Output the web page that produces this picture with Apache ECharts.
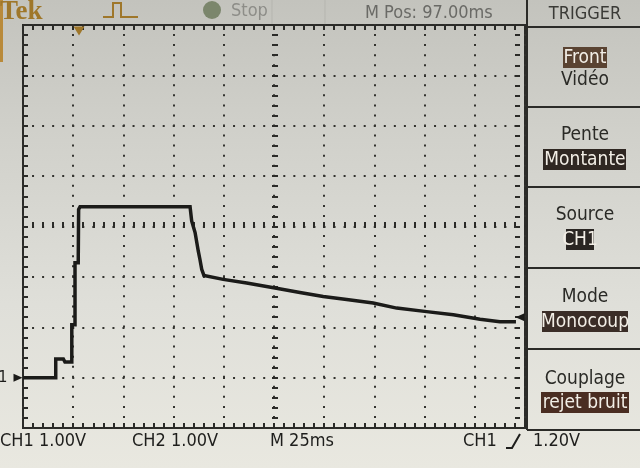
<!DOCTYPE html>
<html><head><meta charset="utf-8">
<script src="https://cdn.jsdelivr.net/npm/echarts@6/dist/echarts.min.js"></script>
<style>
html,body{margin:0;padding:0;width:640px;height:468px;overflow:hidden;}
body{background:linear-gradient(180deg,#c3c3bd 0%,#d1d1cb 30%,#dfdfd9 65%,#e9e8e0 100%);}
#c{width:640px;height:468px;}
</style></head><body><div id="c"></div>
<script>
const timeMs   = [0, 16.3, 16.3, 20.1, 20.9, 24.3, 24.3, 25.9, 25.9, 27.5, 27.7, 28.4, 83.2, 84.0, 85.7, 87.3, 88.1, 89.0, 90.1, 99.7, 111.4, 125.5, 137.9, 149.5, 161.2, 174.4, 186.1, 201.0, 214.3, 227.6, 237.5, 245.5];
const ch1Volts = [0.0, 0.0, 0.37, 0.37, 0.31, 0.31, 1.05, 1.05, 2.28, 2.28, 3.34, 3.39, 3.39, 3.11, 2.88, 2.51, 2.35, 2.15, 2.03, 1.95, 1.88, 1.78, 1.69, 1.61, 1.55, 1.48, 1.38, 1.31, 1.25, 1.16, 1.11, 1.11];
const timeRange = [0, 250];      // 10 div x 25 ms
const msPerDiv = 25;
const voltRange = [-1, 7];       // 8 div x 1.00 V, ground one div above bottom
const voltPerDiv = 1;
const triggerTimeMs = 27.9;
const triggerLevelV = 1.2;
const topTexts = ['Tek', 'Stop', 'M Pos: 97.00ms', 'TRIGGER'];
const bottomTexts = ['CH1 1.00V', 'CH2 1.00V', 'M 25ms', 'CH1', '1.20V'];
const menuTitles = ['', 'Pente', 'Source', 'Mode', 'Couplage'];
const menuValues = ['Front', 'Montante', 'CH1', 'Monocoup', 'rejet bruit'];
const menuExtra = 'Vidéo';

const F = "'Liberation Sans Narrow','DejaVu Sans Condensed','Roboto Condensed',sans-serif";
const ink = '#2b2b28';
const gold = '#9f772a';

function mainAxis(kind) {
  const isX = kind === 'x';
  return {
    type: 'value', gridIndex: 0, position: isX ? 'bottom' : 'left',
    min: isX ? timeRange[0] : voltRange[0], max: isX ? timeRange[1] : voltRange[1],
    interval: isX ? msPerDiv : voltPerDiv,
    axisLine: {show: false}, axisTick: {show: false}, axisLabel: {show: false},
    splitLine: {show: true, lineStyle: {color: '#33332f', width: 2, type: [2, 8.05], dashOffset: 1}}
  };
}
function tickAxis(kind, grid, pos, len) {
  const isX = kind === 'x';
  return {
    type: 'value', gridIndex: grid, position: pos,
    min: isX ? timeRange[0] : voltRange[0], max: isX ? timeRange[1] : voltRange[1],
    interval: isX ? msPerDiv : voltPerDiv,
    axisLine: {show: false},
    axisTick: {show: true, inside: true, length: len, lineStyle: {color: ink, width: 2}},
    minorTick: {show: true, splitNumber: 5, length: len, lineStyle: {color: ink, width: 2}},
    axisLabel: {show: false}, splitLine: {show: false}
  };
}
function hidden(grid) {
  return {type: 'value', gridIndex: grid, show: false, min: 0, max: 1};
}

function T(x, y, s, size, color, align, weight, fam) {
  return {type: 'text', z: 50, style: {text: s, x: x, y: y, fill: color, align: align || 'left',
    verticalAlign: 'middle', font: (weight || 'normal') + ' ' + size + 'px ' + (fam || F)}};
}
function R(x, y, w, h, fill) {
  return {type: 'rect', z: 40, shape: {x: x, y: y, width: w, height: h}, style: {fill: fill}};
}
function L(x1, y1, x2, y2, color, w) {
  return {type: 'line', z: 40, shape: {x1: x1, y1: y1, x2: x2, y2: y2}, style: {stroke: color, lineWidth: w || 2}};
}

const graphics = [
  R(0, 0, 3, 62, '#b98a3a'),
  T(0, 12, topTexts[0], 27, gold, 'left', 'bold', "'Liberation Serif',serif"),
  {type: 'polyline', z: 40, shape: {points: [[103, 17], [113, 17], [113, 3], [121, 3], [121, 17], [138, 17]]}, style: {stroke: gold, lineWidth: 2, fill: null}},
  {type: 'circle', z: 40, shape: {cx: 212, cy: 10, r: 9}, style: {fill: '#7b866c'}},
  T(231, 11, topTexts[1], 18, '#8d8d88', 'left'),
  L(272, 0, 272, 24, '#b5b5af', 1),
  L(325, 0, 325, 24, '#b5b5af', 1),
  T(365, 13, topTexts[2], 18, '#6a6a66', 'left'),
  T(585, 14, topTexts[3], 18, '#3a3a36', 'center'),
  L(527, 0, 527, 430, ink, 2),
  L(527, 27, 640, 27, ink, 2),
  L(527, 107, 640, 107, ink, 2),
  L(527, 187, 640, 187, ink, 2),
  L(527, 268, 640, 268, ink, 2),
  L(527, 349, 640, 349, ink, 2),
  L(527, 430, 640, 430, ink, 2),
  R(563, 47, 44, 21, '#5a4332'), T(585, 58, menuValues[0], 19, '#f2eee6', 'center'),
  T(585, 80, menuExtra, 19, '#2a2a26', 'center'),
  T(585, 135, menuTitles[1], 19, '#2a2a26', 'center'),
  R(543, 149, 83, 21, '#2f2722'), T(585, 160, menuValues[1], 19, '#f2eee6', 'center'),
  T(585, 215, menuTitles[2], 19, '#2a2a26', 'center'),
  R(566, 229, 28, 21, '#2a2623'), T(580, 240, menuValues[2], 19, '#f2eee6', 'center'),
  T(585, 297, menuTitles[3], 19, '#2a2a26', 'center'),
  R(542, 311, 86, 21, '#3a2d27'), T(585, 322, menuValues[3], 19, '#f2eee6', 'center'),
  T(585, 379, menuTitles[4], 19, '#2a2a26', 'center'),
  R(541, 392, 88, 21, '#4a2d22'), T(585, 403, menuValues[4], 19, '#f2eee6', 'center'),
  T(0, 441, bottomTexts[0], 18, '#1e1e1c', 'left'),
  T(132, 441, bottomTexts[1], 18, '#1e1e1c', 'left'),
  T(270, 441, bottomTexts[2], 18, '#1e1e1c', 'left'),
  T(463, 441, bottomTexts[3], 18, '#1e1e1c', 'left'),
  {type: 'polyline', z: 40, shape: {points: [[506, 448], [512, 448], [520, 434]]}, style: {stroke: '#1e1e1c', lineWidth: 2, fill: null}},
  T(533, 441, bottomTexts[4], 18, '#1e1e1c', 'left')
];

const chart = echarts.init(document.getElementById('c'), null, {renderer: 'canvas'});
chart.setOption({
  backgroundColor: 'transparent',
  animation: false,
  grid: [
    {left: 23, right: 115, top: 25, bottom: 40, show: true, borderColor: ink, borderWidth: 2, backgroundColor: 'transparent'},
    {left: 23, right: 115, top: 222, height: 6},
    {left: 272, width: 6, top: 25, bottom: 40},
    {left: 23, right: 115, top: 25, height: 5},
    {left: 23, right: 115, top: 423, height: 5},
    {left: 23, width: 5, top: 25, bottom: 40},
    {left: 520, width: 5, top: 25, bottom: 40}
  ],
  xAxis: [mainAxis('x'), tickAxis('x', 1, 'bottom', 6), hidden(2), tickAxis('x', 3, 'bottom', 5), tickAxis('x', 4, 'bottom', 5), hidden(5), hidden(6)],
  yAxis: [mainAxis('y'), hidden(1), tickAxis('y', 2, 'left', 6), hidden(3), hidden(4), tickAxis('y', 5, 'left', 5), tickAxis('y', 6, 'right', 5)],
  series: [{
    type: 'line', xAxisIndex: 0, yAxisIndex: 0,
    data: timeMs.map((t, i) => [t, ch1Volts[i]]),
    showSymbol: false, z: 10,
    lineStyle: {color: '#1b1b19', width: 3.5, join: 'miter'},
    markPoint: {
      silent: true,
      data: [
        {coord: [triggerTimeMs, voltRange[1]], symbol: 'triangle', symbolRotate: 180, symbolSize: [11, 9], symbolOffset: [0, 6], itemStyle: {color: gold}, label: {show: false}},
        {coord: [timeRange[1], triggerLevelV], symbol: 'triangle', symbolRotate: 90, symbolSize: [8, 9], symbolOffset: [-5, 0], itemStyle: {color: '#1b1b19'}, label: {show: false}},
        {coord: [timeRange[0], 0], symbol: 'triangle', symbolRotate: -90, symbolSize: [8, 9], symbolOffset: [-5, 0], itemStyle: {color: '#1b1b19'},
          label: {show: true, formatter: '1', position: 'left', distance: 6, color: '#1b1b19', fontSize: 16, fontFamily: F}}
      ]
    }
  }],
  graphic: graphics
});
</script></body></html>
